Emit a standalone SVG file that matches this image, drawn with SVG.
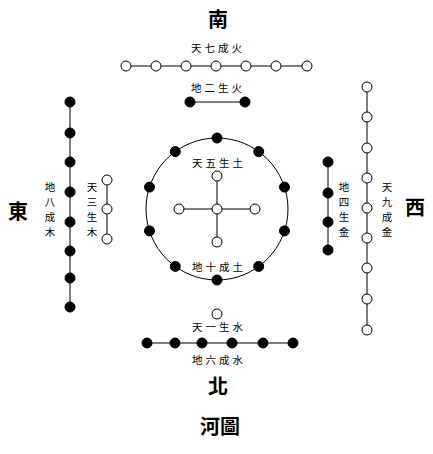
<svg xmlns="http://www.w3.org/2000/svg" width="433" height="454" viewBox="0 0 433 454">
<style>
.l{stroke:#000;stroke-width:1;fill:none}
.o{fill:#fff;stroke:#000;stroke-width:1}
.b{fill:#000;stroke:#000;stroke-width:1}
.t{font-family:"Noto Sans CJK SC","Noto Sans CJK TC",sans-serif;font-size:10.5px;fill:#000}
.h{font-family:"Noto Sans CJK TC","Noto Sans CJK SC",sans-serif;font-size:20px;font-weight:bold;fill:#000}
</style>
<rect width="433" height="454" fill="#fff"/>
<g id="connectors">
<line class="l" x1="126" y1="66" x2="307" y2="66"/>
<line class="l" x1="190" y1="102" x2="245" y2="102"/>
<line class="l" x1="70" y1="102" x2="70" y2="307"/>
<line class="l" x1="107" y1="180" x2="107" y2="239"/>
<line class="l" x1="367" y1="87" x2="367" y2="330"/>
<line class="l" x1="328" y1="162" x2="328" y2="250"/>
<circle class="l" cx="217" cy="209" r="71"/>
<line class="l" x1="179" y1="209" x2="255" y2="209"/>
<line class="l" x1="217" y1="176" x2="217" y2="242"/>
<line class="l" x1="147" y1="343" x2="293" y2="343"/>
</g>
<g id="south">
<text class="h" x="218" y="27" text-anchor="middle">南</text>
<text class="t" x="218" y="52" text-anchor="middle" letter-spacing="3">天七成火</text>
<g class="o"><circle cx="126" cy="66" r="5"/><circle cx="156" cy="66" r="5"/><circle cx="186" cy="66" r="5"/><circle cx="216" cy="66" r="5"/><circle cx="246" cy="66" r="5"/><circle cx="276" cy="66" r="5"/><circle cx="307" cy="66" r="5"/></g>
<text class="t" x="218" y="92" text-anchor="middle" letter-spacing="3">地二生火</text>
<g class="b"><circle cx="190" cy="102" r="5"/><circle cx="245" cy="102" r="5"/></g>
</g>
<g id="east">
<text class="h" x="18" y="219" text-anchor="middle">東</text>
<g class="b"><circle cx="70" cy="102" r="5"/><circle cx="70" cy="133" r="5"/><circle cx="70" cy="162" r="5"/><circle cx="70" cy="192" r="5"/><circle cx="70" cy="222" r="5"/><circle cx="70" cy="251" r="5"/><circle cx="70" cy="278" r="5"/><circle cx="70" cy="307" r="5"/></g>
<text class="t" text-anchor="middle"><tspan x="50" y="191">地</tspan><tspan x="50" y="206">八</tspan><tspan x="50" y="221">成</tspan><tspan x="50" y="236">木</tspan></text>
<text class="t" text-anchor="middle"><tspan x="92" y="191">天</tspan><tspan x="92" y="206">三</tspan><tspan x="92" y="221">生</tspan><tspan x="92" y="236">木</tspan></text>
<g class="o"><circle cx="107" cy="180" r="5"/><circle cx="107" cy="209" r="5"/><circle cx="107" cy="239" r="5"/></g>
</g>
<g id="west">
<text class="h" x="415" y="215" text-anchor="middle">西</text>
<g class="o"><circle cx="367" cy="87" r="5"/><circle cx="367" cy="117" r="5"/><circle cx="367" cy="148" r="5"/><circle cx="367" cy="178" r="5"/><circle cx="367" cy="208" r="5"/><circle cx="367" cy="238" r="5"/><circle cx="367" cy="268" r="5"/><circle cx="367" cy="299" r="5"/><circle cx="367" cy="330" r="5"/></g>
<g class="b"><circle cx="328" cy="162" r="5"/><circle cx="328" cy="193" r="5"/><circle cx="328" cy="222" r="5"/><circle cx="328" cy="250" r="5"/></g>
<text class="t" text-anchor="middle"><tspan x="344" y="191">地</tspan><tspan x="344" y="206">四</tspan><tspan x="344" y="221">生</tspan><tspan x="344" y="236">金</tspan></text>
<text class="t" text-anchor="middle"><tspan x="387" y="191">天</tspan><tspan x="387" y="206">九</tspan><tspan x="387" y="221">成</tspan><tspan x="387" y="236">金</tspan></text>
</g>
<g id="center">
<g class="b"><circle cx="217" cy="138" r="5"/><circle cx="258.7" cy="151.6" r="5"/><circle cx="284.5" cy="187.1" r="5"/><circle cx="284.5" cy="230.9" r="5"/><circle cx="258.7" cy="266.4" r="5"/><circle cx="217" cy="280" r="5"/><circle cx="175.3" cy="266.4" r="5"/><circle cx="149.5" cy="230.9" r="5"/><circle cx="149.5" cy="187.1" r="5"/><circle cx="175.3" cy="151.6" r="5"/></g>
<text class="t" x="219" y="167" text-anchor="middle" letter-spacing="3">天五生土</text>
<g class="o"><circle cx="217" cy="209" r="5"/><circle cx="179" cy="209" r="5"/><circle cx="255" cy="209" r="5"/><circle cx="217" cy="176" r="5"/><circle cx="217" cy="242" r="5"/></g>
<text class="t" x="219" y="271" text-anchor="middle" letter-spacing="3">地十成土</text>
</g>
<g id="north">
<circle class="o" cx="217" cy="314" r="5"/>
<text class="t" x="219" y="331" text-anchor="middle" letter-spacing="3">天一生水</text>
<g class="b"><circle cx="147" cy="343" r="5"/><circle cx="175" cy="343" r="5"/><circle cx="202" cy="343" r="5"/><circle cx="232" cy="343" r="5"/><circle cx="263" cy="343" r="5"/><circle cx="293" cy="343" r="5"/></g>
<text class="t" x="219" y="364" text-anchor="middle" letter-spacing="3">地六成水</text>
<text class="h" x="218" y="394" text-anchor="middle">北</text>
</g>
<g id="title">
<text class="h" x="220" y="434" text-anchor="middle">河圖</text>
</g>
</svg>
